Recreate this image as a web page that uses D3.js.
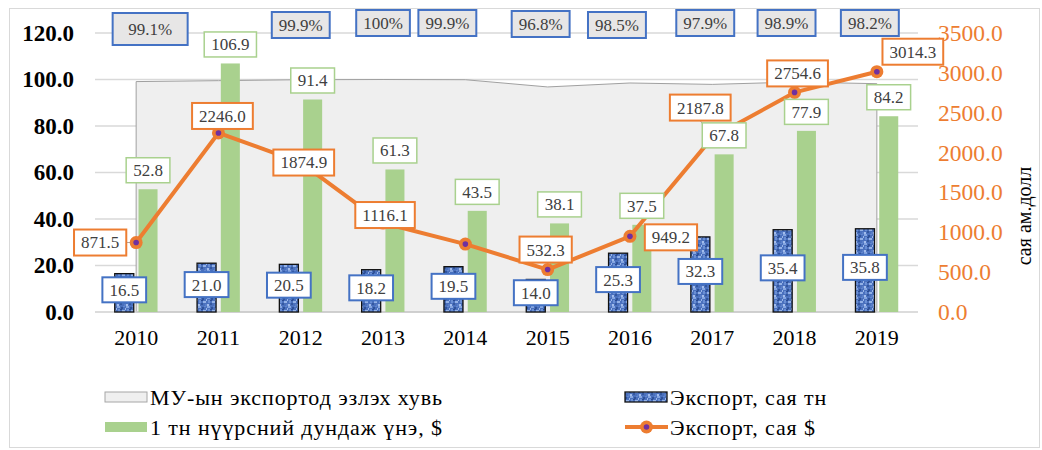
<!DOCTYPE html>
<html>
<head>
<meta charset="utf-8">
<script src="https://cdn.jsdelivr.net/npm/d3@7"></script>
<style>
  body { margin: 0; background: #fff; }
  text { font-family: "Liberation Serif", "Times New Roman", serif; }
</style>
</head>
<body>
<div id="chart"></div>
<script>
// data
const years = ["2010", "2011", "2012", "2013", "2014", "2015", "2016", "2017", "2018", "2019"];
const sharePct = [99.1, 99.5, 99.9, 100, 99.9, 96.8, 98.5, 97.9, 98.9, 98.2];
const shareShown = [true, false, true, true, true, true, true, true, true, true];
const exportTons = [16.5, 21.0, 20.5, 18.2, 19.5, 14.0, 25.3, 32.3, 35.4, 35.8];
const avgPrice = [52.8, 106.9, 91.4, 61.3, 43.5, 38.1, 37.5, 67.8, 77.9, 84.2];
const exportUsd = [871.5, 2246.0, 1874.9, 1116.1, 852.0, 532.3, 949.2, 2187.8, 2754.6, 3014.3];
const usdShown = [true, true, true, true, false, true, true, true, true, true];
const leftTicks = [0, 20, 40, 60, 80, 100, 120];
const rightTicks = [0, 500, 1000, 1500, 2000, 2500, 3000, 3500];
const legendNames = ["МУ-ын экспортод эзлэх хувь", "1 тн нүүрсний дундаж үнэ, $", "Экспорт, сая тн", "Экспорт, сая $"];
const rightTitle = "сая ам.долл";

// label nudges (px) relative to the mark they belong to
const pctDx = [14, 0, 0, 0, -18, -7, -13, -7, -8, -7];
const pctDy = [29, 24, 25, 23, 23, 24, 25, 23, 23, 23];
const usdDx = [-36, 4, 3, 2, 0, -2, 41, -12, 3, 36];
const usdDy = [0, -17, 0, -8, 0, -20, 1, -30, -19, -20];

const W = 1042, H = 450;
const plot = { left: 95, right: 918, top: 33, bottom: 312 };

const blue = "#4472c4", green = "#a9d18e", orange = "#ed7d31", purple = "#7030a0";
const labelText = "#404040";

const svg = d3.select("#chart").append("svg")
  .attr("width", W)
  .attr("height", H);

// texture for the tonnage bars
const defs = svg.append("defs");
const pat = defs.append("pattern")
  .attr("id", "tissue")
  .attr("patternUnits", "userSpaceOnUse")
  .attr("width", 9).attr("height", 9);
pat.append("rect").attr("width", 9).attr("height", 9).attr("fill", "#4a70bd");
[[0,0,3,2,"#86a6e0"],[4,1,2,2,"#2f5299"],[1,3,2,3,"#6a8fd4"],[5,4,3,2,"#93b1e6"],
 [3,6,2,2,"#34589f"],[6,0,2,1,"#6388cf"],[0,7,2,2,"#a3bdec"],[3,3,2,1,"#2a4a90"],
 [7,7,2,2,"#5a7fc8"],[8,2,1,2,"#9ab6e8"]]
  .forEach(p => pat.append("rect").attr("x", p[0]).attr("y", p[1])
    .attr("width", p[2]).attr("height", p[3]).attr("fill", p[4]));

svg.append("rect")
  .attr("x", 9.5).attr("y", 8.5)
  .attr("width", 1030).attr("height", 439)
  .attr("fill", "none")
  .attr("stroke", "#d9d9d9");

const x0 = d3.scaleBand().domain(years).range([plot.left, plot.right]);
const cx = d => x0(d) + x0.bandwidth() / 2;
const x1 = d3.scaleBand().domain(["tons", "price"])
  .range([-0.26 * x0.bandwidth(), 0.26 * x0.bandwidth()])
  .paddingInner(0.2);
const y = d3.scaleLinear().domain([0, 120]).range([plot.bottom, plot.top]);
const y2 = d3.scaleLinear().domain([0, 3500]).range([plot.bottom, plot.top]);

// gridlines
svg.append("g").selectAll("line")
  .data(leftTicks.slice(1))
  .enter().append("line")
  .attr("x1", plot.left).attr("x2", plot.right)
  .attr("y1", d => y(d)).attr("y2", d => y(d))
  .attr("stroke", "#d9d9d9").attr("stroke-width", 1.5);

// share area
const area = d3.area()
  .x((d, i) => cx(years[i]))
  .y0(y(0))
  .y1(d => y(d));
svg.append("path")
  .datum(sharePct)
  .attr("d", area)
  .attr("fill", "#efefef")
  .attr("stroke", "#a0a0a0")
  .attr("stroke-width", 1);

svg.append("line")
  .attr("x1", plot.left).attr("x2", plot.right)
  .attr("y1", y(0)).attr("y2", y(0))
  .attr("stroke", "#d0d0d0").attr("stroke-width", 1.5);

// bars
svg.append("g").selectAll("rect")
  .data(exportTons)
  .enter().append("rect")
  .attr("x", (d, i) => cx(years[i]) + x1("tons"))
  .attr("y", d => y(d))
  .attr("width", x1.bandwidth())
  .attr("height", d => y(0) - y(d))
  .attr("fill", "url(#tissue)")
  .attr("stroke", "#111")
  .attr("stroke-width", 1.3);

svg.append("g").selectAll("rect")
  .data(avgPrice)
  .enter().append("rect")
  .attr("x", (d, i) => cx(years[i]) + x1("price"))
  .attr("y", d => y(d))
  .attr("width", x1.bandwidth())
  .attr("height", d => y(0) - y(d))
  .attr("fill", green);

// axes
const leftAxis = svg.append("g")
  .attr("transform", `translate(${plot.left - 21},0)`)
  .call(d3.axisLeft(y).tickValues(leftTicks).tickFormat(d3.format(".1f")).tickSize(0).tickPadding(0));
leftAxis.select(".domain").remove();
leftAxis.selectAll("text")
  .attr("font-size", "23px").attr("font-weight", "bold").attr("fill", "#000")
  .attr("font-family", "Liberation Serif");

const rightAxis = svg.append("g")
  .attr("transform", `translate(${plot.right + 20},0)`)
  .call(d3.axisRight(y2).tickValues(rightTicks).tickFormat(d3.format(".1f")).tickSize(0).tickPadding(0));
rightAxis.select(".domain").remove();
rightAxis.selectAll("text")
  .attr("font-size", "23.5px").attr("fill", orange)
  .attr("font-family", "Liberation Serif");

const bottomAxis = svg.append("g")
  .attr("transform", `translate(0,${plot.bottom})`)
  .call(d3.axisBottom(x0).tickSize(0).tickPadding(17));
bottomAxis.select(".domain").remove();
bottomAxis.selectAll("text")
  .attr("font-size", "22px").attr("fill", "#000")
  .attr("font-family", "Liberation Serif");

svg.append("text")
  .attr("transform", "translate(1031,216) rotate(-90)")
  .attr("text-anchor", "middle")
  .attr("font-size", "20px")
  .attr("fill", "#000")
  .text(rightTitle);

// export value line
const line = d3.line()
  .x((d, i) => cx(years[i]))
  .y(d => y2(d));
svg.append("path")
  .datum(exportUsd)
  .attr("d", line)
  .attr("fill", "none")
  .attr("stroke", orange)
  .attr("stroke-width", 4)
  .attr("stroke-linejoin", "round");

// leader lines for the two pulled-away labels
[0, 7].forEach(i => {
  svg.append("line")
    .attr("x1", cx(years[i]) + usdDx[i] + (i === 0 ? 26 : 0))
    .attr("y1", y2(exportUsd[i]) + usdDy[i] + (i === 0 ? 0 : 13))
    .attr("x2", cx(years[i]))
    .attr("y2", y2(exportUsd[i]))
    .attr("stroke", "#a6a6a6").attr("stroke-width", 1);
});

const dots = svg.append("g").selectAll("g")
  .data(exportUsd)
  .enter().append("g")
  .attr("transform", (d, i) => `translate(${cx(years[i])},${y2(d)})`);
dots.append("circle").attr("r", 6.5).attr("fill", orange);
dots.append("circle").attr("r", 2.8).attr("fill", purple);

// boxed data labels
function boxLabel(g, px, py, txt, stroke, fill, minW, h, sw) {
  const grp = g.append("g").attr("transform", `translate(${px},${py})`);
  const rect = grp.append("rect");
  const t = grp.append("text")
    .attr("text-anchor", "middle")
    .attr("dy", "0.35em")
    .attr("font-size", "17px")
    .attr("fill", labelText)
    .text(txt);
  const w = Math.max(minW || 0, t.node().getComputedTextLength() + 14);
  rect.attr("x", -w / 2).attr("y", -h / 2)
    .attr("width", w).attr("height", h)
    .attr("fill", fill)
    .attr("stroke", stroke)
    .attr("stroke-width", sw || 2);
}

const labels = svg.append("g");
const fmt1 = d3.format(".1f");

sharePct.forEach((v, i) => {
  if (!shareShown[i]) return;
  const big = i === 0;
  boxLabel(labels, cx(years[i]) + pctDx[i], pctDy[i], (v === 100 ? "100" : fmt1(v)) + "%",
    blue, "#e7e6e6", big ? 75 : 0, big ? 32 : 26);
});

exportTons.forEach((v, i) => {
  const bx = cx(years[i]) + x1("tons") + x1.bandwidth() / 2;
  boxLabel(labels, bx, (y(v) + y(0)) / 2 - 3, fmt1(v), blue, "#fff", 0, 25);
});

avgPrice.forEach((v, i) => {
  const bx = cx(years[i]) + x1("price") + x1.bandwidth() / 2;
  boxLabel(labels, bx, y(v) - 19, fmt1(v), green, "#fff", 0, 25, 1.5);
});

exportUsd.forEach((v, i) => {
  if (!usdShown[i]) return;
  boxLabel(labels, cx(years[i]) + usdDx[i], y2(v) + usdDy[i], fmt1(v), orange, "#fff", 0, 26);
});

// legend
const legend = svg.append("g");
const rowY = [397, 427];
const colX = [105, 625];

legend.append("rect")
  .attr("x", colX[0]).attr("y", rowY[0] - 5).attr("width", 42).attr("height", 10)
  .attr("fill", "#efefef").attr("stroke", "#a6a6a6");
legend.append("rect")
  .attr("x", colX[0]).attr("y", rowY[1] - 5).attr("width", 42).attr("height", 10)
  .attr("fill", green);
legend.append("rect")
  .attr("x", colX[1]).attr("y", rowY[0] - 5).attr("width", 42).attr("height", 10)
  .attr("fill", "url(#tissue)").attr("stroke", "#111").attr("stroke-width", 1.3);
legend.append("line")
  .attr("x1", colX[1]).attr("x2", colX[1] + 43)
  .attr("y1", rowY[1]).attr("y2", rowY[1])
  .attr("stroke", orange).attr("stroke-width", 4);
legend.append("circle").attr("cx", colX[1] + 21.5).attr("cy", rowY[1]).attr("r", 6.5).attr("fill", orange);
legend.append("circle").attr("cx", colX[1] + 21.5).attr("cy", rowY[1]).attr("r", 2.8).attr("fill", purple);

legend.selectAll("text")
  .data(legendNames)
  .enter().append("text")
  .attr("x", (d, i) => colX[i < 2 ? 0 : 1] + 45)
  .attr("y", (d, i) => rowY[i % 2])
  .attr("dy", "0.35em")
  .attr("font-size", "22px")
  .attr("letter-spacing", "0.9px")
  .attr("fill", "#000")
  .text(d => d);
</script>
</body>
</html>
